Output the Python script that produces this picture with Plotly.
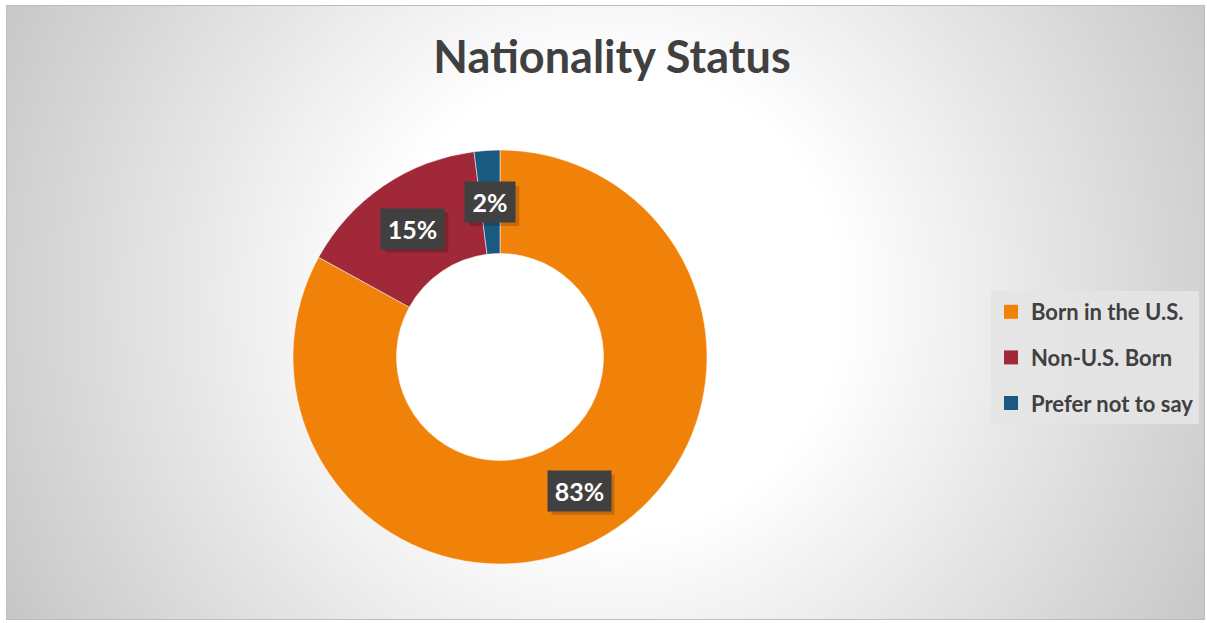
import math
import base64
import plotly.graph_objects as go

# ---- data ----
labels = ["Born in the U.S.", "Non-U.S. Born", "Prefer not to say"]
values = [83, 15, 2]
colors = ["#F0820A", "#A02838", "#1B5A80"]
title_text = "Nationality Status"

W, H = 1207, 623
# pie geometry in pixels (domain)
px_left, px_right = 293, 707
py_top, py_bottom = 150, 564
HOLE = 0.5

dom_x = [px_left / W, px_right / W]
dom_y = [1 - py_bottom / H, 1 - py_top / H]

fig = go.Figure()
fig.add_trace(go.Pie(
    labels=labels, values=values, sort=False, direction="clockwise", rotation=0,
    hole=HOLE, marker=dict(colors=colors, line=dict(color="rgba(255,255,255,0.5)", width=1)),
    textinfo="none", showlegend=False, domain=dict(x=dom_x, y=dom_y),
    hovertemplate="%{label}: %{percent}<extra></extra>",
))

# legend via dummy traces (for spacing control)
for lab, col in zip(labels, colors):
    fig.add_trace(go.Scatter(
        x=[None], y=[None], mode="markers", name=f"<b>{lab}</b>",
        marker=dict(symbol="square", size=14, color=col),
        legendgroup=lab, showlegend=True,
    ))

# data label annotations at mid-radius of each slice
total = sum(values)
cx = (dom_x[0] + dom_x[1]) / 2
cy = (dom_y[0] + dom_y[1]) / 2
R = (px_right - px_left) / 2
rmid = R * (1 + HOLE) / 2
cum = 0
for v in values:
    mid = (cum + v / 2) / total * 2 * math.pi
    cum += v
    ax = cx + rmid * math.sin(mid) / W
    ay = cy + rmid * math.cos(mid) / H
    txt = f"{round(v / total * 100)}%"
    bw = 24 + 13 * len(txt)
    # soft shadow box
    fig.add_shape(type="rect", xref="paper", yref="paper", layer="above",
                  x0=ax - bw / 2 / W + 4 / W, x1=ax + bw / 2 / W + 4 / W,
                  y0=ay - 20 / H - 4 / H, y1=ay + 20 / H - 4 / H,
                  fillcolor="rgba(0,0,0,0.18)", line=dict(width=0))
    fig.add_annotation(x=ax, y=ay, xref="paper", yref="paper",
                       text=f"<b>{txt}</b>", showarrow=False, bgcolor="#404040",
                       font=dict(family="Lato", size=25, color="white"),
                       width=bw, height=40, borderpad=0, xanchor="center", yanchor="middle")

svg = f'''<svg xmlns="http://www.w3.org/2000/svg" width="{W}" height="{H}" viewBox="0 0 {W} {H}">
<defs><radialGradient id="g" gradientUnits="userSpaceOnUse" cx="610" cy="300" r="700">
<stop offset="0" stop-color="#ffffff"/><stop offset="0.33" stop-color="#ffffff"/>
<stop offset="1" stop-color="#c4c4c4"/></radialGradient></defs>
<rect x="0" y="0" width="{W}" height="{H}" fill="#ffffff"/>
<rect x="6.5" y="5.5" width="1198" height="614" fill="url(#g)" stroke="#bdbdbd" stroke-width="1"/>
</svg>'''
src = "data:image/svg+xml;base64," + base64.b64encode(svg.encode()).decode()

fig.update_layout(
    width=W, height=H,
    margin=dict(l=0, r=0, t=0, b=0),
    paper_bgcolor="white", plot_bgcolor="rgba(0,0,0,0)",
    images=[dict(source=src, xref="paper", yref="paper", x=0, y=1, sizex=1, sizey=1,
                 xanchor="left", yanchor="top", sizing="stretch", layer="below")],
    xaxis=dict(visible=False), yaxis=dict(visible=False),
    title=dict(text=f"<b>{title_text}</b>", x=612 / W, xanchor="center",
               y=1 - 57 / H, yanchor="middle",
               font=dict(family="Lato", size=45, color="#404040")),
    legend=dict(x=991 / W, y=1 - 291 / H, xanchor="left", yanchor="top",
                bgcolor="rgba(228,228,228,0.9)", tracegroupgap=14,
                font=dict(family="Lato", size=22, color="#404040"),
                itemclick=False),
    font=dict(family="Lato"),
)

fig.write_html("out.html", config={"displayModeBar": False},
               post_script="document.body.style.margin='0px';")
